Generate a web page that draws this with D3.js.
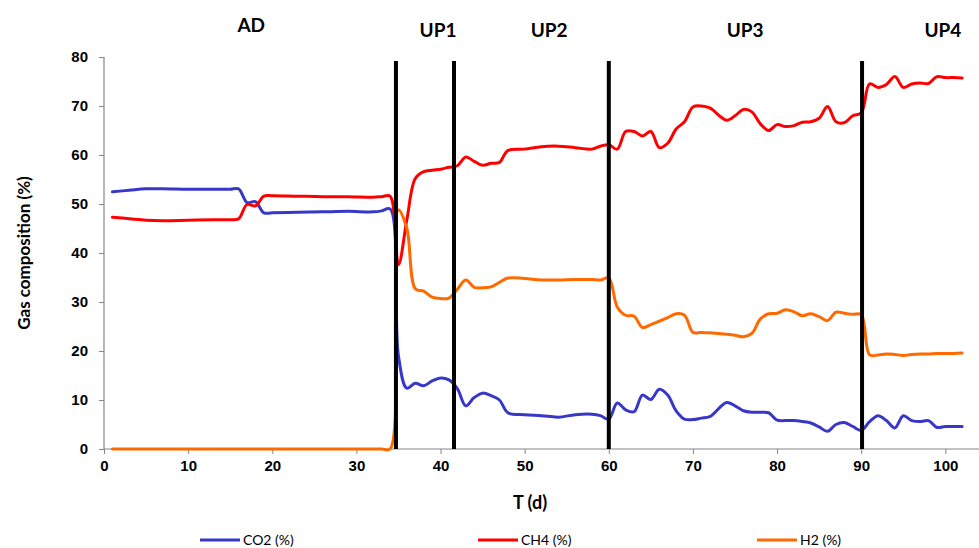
<!DOCTYPE html>
<html>
<head>
<meta charset="utf-8">
<script src="https://cdn.jsdelivr.net/npm/d3@7"></script>
<style>
  body { margin: 0; background: #fff; }
  #gas-chart svg { display: block; font-family: Lato, "Open Sans", sans-serif; }
</style>
</head>
<body>
<div id="gas-chart"></div>
<script>
// days
const days = [1, 3, 5, 7, 10, 13, 15, 16, 17, 18, 19, 20, 23, 26, 29, 32, 33, 34,
  35, 36, 37, 38, 39, 40, 41, 42, 43, 44, 45, 46, 47, 48, 50, 52, 54, 56, 58, 59,
  60, 61, 62, 63, 64, 65, 66, 67, 68, 69, 70, 71, 72, 74, 75, 76, 77, 78, 79, 80,
  81, 82, 83, 84, 85, 86, 87, 88, 89, 90, 91, 92, 93, 94, 95, 96, 97, 98, 99, 100,
  101, 102];

const co2 = [52.5, 52.8, 53.1, 53.1, 53.0, 53.0, 53.0, 53.1, 50.3, 50.5, 48.2, 48.2,
  48.3, 48.4, 48.5, 48.4, 48.6, 49.0,
  19.0, 12.4, 13.4, 12.9, 13.9, 14.5, 14.1, 12.3, 8.8, 10.5, 11.4, 10.9, 10.0, 7.4,
  7.0, 6.8, 6.5, 7.0, 7.1, 6.8,
  6.1, 9.4, 8.0, 7.6, 11.0, 10.1, 12.2, 11.0, 7.8, 6.1, 6.0, 6.3, 6.6, 9.5, 8.8, 7.8,
  7.5, 7.5, 7.4, 5.9, 5.8, 5.8, 5.6, 5.3, 4.5, 3.6, 5.0, 5.4, 4.6, 3.8,
  5.6, 6.8, 5.8, 4.3, 6.8, 5.8, 5.6, 5.8, 4.4, 4.6, 4.6, 4.6];

const ch4 = [47.3, 47.0, 46.7, 46.6, 46.7, 46.8, 46.8, 47.0, 49.9, 49.6, 51.6, 51.7,
  51.6, 51.5, 51.5, 51.4, 51.5, 51.6,
  37.6, 46.8, 55.2, 56.6, 56.9, 57.1, 57.5, 57.8, 59.6, 58.7, 57.9, 58.3, 58.5, 60.9,
  61.2, 61.7, 61.8, 61.5, 61.2, 61.8,
  62.1, 61.2, 64.8, 64.8, 63.9, 64.8, 61.5, 62.4, 65.3, 66.8, 69.8, 70.0, 69.6, 67.1,
  68.0, 69.3, 68.8, 66.4, 65.0, 66.2, 65.8, 66.0, 66.7, 66.8, 67.5, 69.9, 66.8, 66.6,
  68.0, 68.6,
  74.5, 73.8, 74.4, 76.0, 73.8, 74.5, 74.7, 74.6, 76.0, 75.8, 75.8, 75.7];

const h2 = [0, 0, 0, 0, 0, 0, 0, 0, 0, 0, 0, 0, 0, 0, 0, 0, 0, 0,
  48.8, 45.0, 32.7, 32.2, 31.0, 30.7, 30.8, 32.6, 34.5, 33.0, 32.9, 33.1, 34.0, 34.9,
  34.8, 34.5, 34.5, 34.6, 34.6, 34.5,
  34.9, 29.0, 27.3, 27.1, 24.8, 25.4, 26.1, 26.8, 27.6, 27.3, 23.8, 23.8, 23.7, 23.4,
  23.2, 22.9, 23.6, 26.5, 27.6, 27.7, 28.4, 28.0, 27.2, 27.6, 27.0, 26.2, 27.9, 27.7,
  27.5, 27.4,
  19.2, 19.2, 19.4, 19.3, 19.1, 19.3, 19.4, 19.4, 19.5, 19.5, 19.5, 19.6];

// phase boundaries and labels
const phaseLines = [34.7, 41.6, 60, 90.1];
const phaseNames = ["AD", "UP1", "UP2", "UP3", "UP4"];
const phaseLabelDays = [17.5, 39.7, 52.9, 76.2, 99.7];

const seriesNames = ["CO2 (%)", "CH4 (%)", "H2 (%)"];
const seriesColors = ["#3838c8", "#ff0000", "#ff6a00"];
const xTicks = [0, 10, 20, 30, 40, 50, 60, 70, 80, 90, 100];
const yTicks = [0, 10, 20, 30, 40, 50, 60, 70, 80];

const W = 979, H = 548;
const margin = { top: 57, right: 0, bottom: 99, left: 104 };
const width = W - margin.left - margin.right,
  height = H - margin.top - margin.bottom;

const svg = d3.select("#gas-chart")
  .append("svg")
  .attr("width", W)
  .attr("height", H);

const g = svg.append("g")
  .attr("transform", "translate(" + margin.left + "," + margin.top + ")");

const xScale = d3.scaleLinear().domain([0, 104]).range([0, width]);
const yScale = d3.scaleLinear().domain([0, 80]).range([height, 0]);

// axes
const xAxis = g.append("g")
  .attr("transform", "translate(0," + height + ")")
  .call(d3.axisBottom(xScale).tickValues(xTicks).tickSize(5).tickPadding(6));
const yAxis = g.append("g")
  .call(d3.axisLeft(yScale).tickValues(yTicks).tickSize(5).tickPadding(11));

[xAxis, yAxis].forEach(function (a) {
  a.select(".domain").attr("stroke", "#868686").attr("stroke-width", 1.2);
  a.selectAll(".tick line").attr("stroke", "#868686");
  a.selectAll(".tick text")
    .attr("fill", "#000")
    .style("font-size", "15px")
    .style("font-weight", "bold");
});
xAxis.select(".domain").attr("d", "M0,0H" + width);
yAxis.select(".domain").attr("d", "M0,0V" + height);

// lines
const series = [co2, ch4, h2];
const line = d3.line()
  .x(function (d) { return xScale(d[0]); })
  .y(function (d) { return yScale(d[1]); })
  .curve(d3.curveCatmullRom.alpha(0.5));

series.forEach(function (vals, i) {
  g.append("path")
    .datum(days.map(function (d, j) { return [d, vals[j]]; }))
    .attr("d", line)
    .attr("fill", "none")
    .attr("stroke", seriesColors[i])
    .attr("stroke-width", 3)
    .attr("stroke-linejoin", "round")
    .attr("stroke-linecap", "round");
});

// phase separators
g.selectAll(".phase-line")
  .data(phaseLines)
  .enter()
  .append("line")
  .attr("x1", function (d) { return xScale(d); })
  .attr("x2", function (d) { return xScale(d); })
  .attr("y1", yScale(0))
  .attr("y2", yScale(79.2))
  .attr("stroke", "#000")
  .attr("stroke-width", 4);

// phase labels
svg.selectAll(".phase-label")
  .data(phaseNames)
  .enter()
  .append("text")
  .attr("x", function (d, i) { return margin.left + xScale(phaseLabelDays[i]); })
  .attr("y", function (d, i) { return i === 0 ? 32 : 37; })
  .attr("text-anchor", "middle")
  .style("font-size", "19px")
  .style("font-weight", "bold")
  .text(function (d) { return d; });

// axis titles
svg.append("text")
  .attr("transform", "translate(30," + (margin.top + height / 2) + ") rotate(-90)")
  .attr("text-anchor", "middle")
  .style("font-size", "17px")
  .style("font-weight", "bold")
  .text("Gas composition (%)");

svg.append("text")
  .attr("x", 530)
  .attr("y", 509)
  .attr("text-anchor", "middle")
  .style("font-size", "18px")
  .style("font-weight", "bold")
  .text("T (d)");

// legend
const legendX = [200, 478, 757];
const legend = svg.selectAll(".legend")
  .data(seriesNames)
  .enter()
  .append("g")
  .attr("transform", function (d, i) { return "translate(" + legendX[i] + ",540)"; });
legend.append("line")
  .attr("x1", 0).attr("x2", 40)
  .attr("stroke", function (d, i) { return seriesColors[i]; })
  .attr("stroke-width", 3);
legend.append("text")
  .attr("x", 43)
  .attr("dy", "0.35em")
  .style("font-size", "14px")
  .text(function (d) { return d; });
</script>
</body>
</html>
